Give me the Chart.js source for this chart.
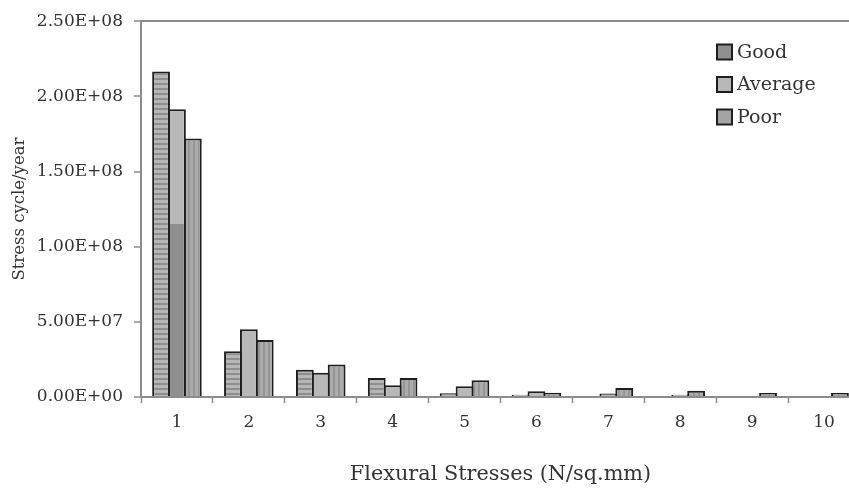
<!DOCTYPE html>
<html>
<head>
<meta charset="utf-8">
<script src="https://cdn.jsdelivr.net/npm/chart.js@4"></script>
<style>
  html, body { margin: 0; padding: 0; background: #fff; overflow: hidden; }
  #chart { display: block; width: 875px; height: 490px; }
</style>
</head>
<body>
<canvas id="chart" width="875" height="490" style="width:875px;height:490px"></canvas>
<script>
const categories = ["1", "2", "3", "4", "5", "6", "7", "8", "9", "10"];
const good    = [2.165e8, 3.05e7, 1.82e7, 1.26e7, 2.5e6, 1.5e6, 0, 0, 0, 0];
const average = [1.915e8, 4.5e7, 1.62e7, 7.8e6, 7.2e6, 3.8e6, 2.3e6, 1.5e6, 0, 0];
const poor    = [1.72e8, 3.8e7, 2.17e7, 1.26e7, 1.12e7, 2.8e6, 6.0e6, 4.2e6, 2.6e6, 2.6e6];
const yTicks  = [0, 5e7, 1e8, 1.5e8, 2e8, 2.5e8];
// the first "Average" bar is printed darker below this level in the original
const averageShadeTop = 1.15e8;

const FONT = "'DejaVu Serif', 'Liberation Serif', serif";
const TEXT = "#333333";
const AXIS = "#8c8c8c";
const EDGE = "#1e1e1e";

function sci(v) {
  const [m, e] = v.toExponential(2).toUpperCase().split("E");
  const n = parseInt(e, 10);
  return `${m}E${n < 0 ? "-" : "+"}${String(Math.abs(n)).padStart(2, "0")}`;
}

const canvas = document.getElementById("chart");
const ctx = canvas.getContext("2d");

function stripes(light, dark, horizontal) {
  const c = document.createElement("canvas");
  c.width = 5; c.height = 5;
  const g = c.getContext("2d");
  g.fillStyle = light;
  g.fillRect(0, 0, 5, 5);
  g.fillStyle = dark;
  if (horizontal) g.fillRect(0, 3, 5, 2);
  else g.fillRect(3, 0, 2, 5);
  return ctx.createPattern(c, "repeat");
}

const goodFill = stripes("#b6b6b6", "#8e8e8e", true);
const poorFill = stripes("#ababab", "#959595", false);

function averageFill(context) {
  const chart = context.chart;
  const y = chart.scales.y;
  if (!chart.chartArea || !y || context.dataIndex !== 0 || !context.raw) return "#b8b8b8";
  const y0 = y.getPixelForValue(0);
  const y1 = y.getPixelForValue(context.raw);
  if (!isFinite(y0) || !isFinite(y1) || y0 === y1) return "#b8b8b8";
  const f = averageShadeTop / context.raw;
  const gr = chart.ctx.createLinearGradient(0, y0, 0, y1);
  gr.addColorStop(0, "#8e8e8e");
  gr.addColorStop(f, "#8e8e8e");
  gr.addColorStop(f, "#b8b8b8");
  gr.addColorStop(1, "#b8b8b8");
  return gr;
}

const legendBox = {
  id: "legendBox",
  afterDraw(chart) {
    const c = chart.ctx;
    c.save();
    c.font = `19px ${FONT}`;
    c.textBaseline = "middle";
    c.textAlign = "left";
    chart.data.datasets.forEach((ds, i) => {
      const y = 52 + i * 32.5;
      c.fillStyle = ds.legendColor;
      c.fillRect(717, y - 7.5, 15, 15);
      c.lineWidth = 2;
      c.strokeStyle = EDGE;
      c.strokeRect(717, y - 7.5, 15, 15);
      c.fillStyle = TEXT;
      c.fillText(ds.label, 737, y + 1);
    });
    c.restore();
  }
};

const chart = new Chart(ctx, {
  type: "bar",
  data: {
    labels: categories,
    datasets: [
      { label: "Good", data: good, backgroundColor: goodFill, legendColor: "#8f8f8f" },
      { label: "Average", data: average, backgroundColor: averageFill, legendColor: "#b8b8b8" },
      { label: "Poor", data: poor, backgroundColor: poorFill, legendColor: "#a4a4a4" },
    ].map(d => Object.assign(d, {
      borderColor: EDGE,
      borderWidth: 2,
      categoryPercentage: 0.663,
      barPercentage: 1.12, // neighbouring bars share one outline
    })),
  },
  options: {
    responsive: false,
    animation: false,
    devicePixelRatio: 1,
    layout: { padding: { top: 21, right: 15, bottom: 0, left: 0 } },
    plugins: {
      legend: { display: false },
      tooltip: { enabled: false },
    },
    scales: {
      x: {
        afterFit: s => { s.height = 93; },
        border: { color: AXIS, width: 2 },
        grid: {
          offset: true,
          drawOnChartArea: false,
          tickLength: 6,
          tickColor: AXIS,
          tickWidth: 1.5,
        },
        ticks: {
          color: TEXT,
          padding: 9,
          font: { family: FONT, size: 17 },
        },
        title: {
          display: true,
          text: "Flexural Stresses (N/sq.mm)",
          color: TEXT,
          font: { family: FONT, size: 20.8 },
          padding: { top: 0, bottom: 3 },
        },
      },
      y: {
        min: 0,
        max: 2.5e8,
        afterFit: s => { s.width = 141; },
        afterBuildTicks: s => { s.ticks = yTicks.map(v => ({ value: v })); },
        border: { color: AXIS, width: 2 },
        grid: {
          color: c => (c.tick && c.tick.value === 2.5e8 ? AXIS : "rgba(0,0,0,0)"),
          lineWidth: 2,
          tickLength: 7,
          tickColor: AXIS,
          tickWidth: 1.5,
        },
        ticks: {
          color: TEXT,
          padding: 11,
          font: { family: FONT, size: 17 },
          callback: v => sci(v),
        },
        title: {
          display: true,
          text: "Stress cycle/year",
          color: TEXT,
          font: { family: FONT, size: 16.5 },
          padding: { top: 10, bottom: 0 },
        },
      },
    },
  },
  plugins: [legendBox],
});
// fills that depend on the laid-out scale are resolved once the layout exists
chart.update();
</script>
</body>
</html>
